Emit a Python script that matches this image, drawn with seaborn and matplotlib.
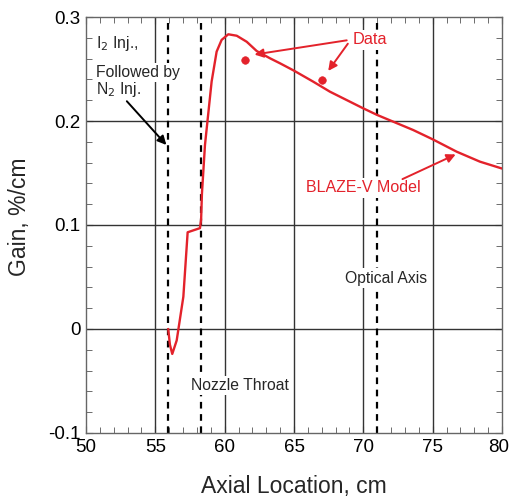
import matplotlib
matplotlib.use("Agg")
import matplotlib.pyplot as plt
import matplotlib.transforms as mtransforms
import seaborn as sns
import pandas as pd
from matplotlib.ticker import MultipleLocator

# Data
model_x = [55.93, 56.05, 56.22, 56.54, 57.02, 57.33, 58.22, 58.30, 58.36, 58.58, 59.06,
           59.42, 59.78, 60.26, 60.87, 61.59, 62.31, 63.27, 63.99, 65.0, 66.39,
           67.59, 69.99, 71.0, 72.04, 73.6, 75.0, 76.73, 78.41, 80.0]
model_y = [0.000, -0.015, -0.024, -0.011, 0.031, 0.093, 0.097, 0.105, 0.130, 0.177, 0.238,
           0.2667, 0.278, 0.2834, 0.282, 0.2762, 0.2673, 0.2603, 0.2555, 0.2484, 0.2378,
           0.2282, 0.2122, 0.2058, 0.200, 0.1913, 0.1824, 0.1705, 0.1609, 0.1543]
data_x = [61.46, 67.04]
data_y = [0.259, 0.2394]
marker_lines = [55.93, 58.3, 71.0]
x_ticks = [50, 55, 60, 65, 70, 75, 80]
y_ticks = [-0.1, 0.0, 0.1, 0.2, 0.3]
y_tick_labels = ["-0.1", "0", "0.1", "0.2", "0.3"]

sns.set_style("ticks")
plt.rcParams["font.family"] = ["Liberation Sans", "DejaVu Sans"]

RED = "#e3222b"

fig = plt.figure(figsize=(5.11, 4.99), dpi=100)
ax = fig.add_axes([0.1683, 0.1323, 0.8141, 0.8336])

ax.set_xlim(50, 80)
ax.set_ylim(-0.1, 0.3)

# grid
for gx in [55, 60, 65, 70, 75]:
    ax.axvline(gx, color="#333333", lw=1.0, zorder=1)
for gy in [0.0, 0.1, 0.2]:
    ax.axhline(gy, color="#333333", lw=1.0, zorder=1)
for mx in marker_lines:
    ax.axvline(mx, color="black", lw=1.6, ls=(0, (3, 2.5)), zorder=1.5)

df_model = pd.DataFrame({"x": model_x, "y": model_y})
df_data = pd.DataFrame({"x": data_x, "y": data_y})
sns.lineplot(data=df_model, x="x", y="y", ax=ax, color=RED, lw=1.7, sort=False,
             estimator=None, zorder=3)
sns.scatterplot(data=df_data, x="x", y="y", ax=ax, color=RED, s=30, edgecolor=RED,
                zorder=4)

ax.set_xticks(x_ticks)
ax.set_yticks(y_ticks)
ax.set_yticklabels(y_tick_labels)
ax.xaxis.set_minor_locator(MultipleLocator(1))
ax.yaxis.set_minor_locator(MultipleLocator(0.02))
ax.tick_params(which="both", direction="in", top=True, right=True, colors="#555555",
               labelcolor="black", labelsize=13.5)
ax.tick_params(which="major", length=5, pad=4)
ax.tick_params(which="minor", length=4)
for s in ax.spines.values():
    s.set_color("#666666")
    s.set_linewidth(1.0)

# nudge the last x tick label so it stays inside the figure
last = ax.get_xticklabels()[-1]
last.set_transform(last.get_transform() + mtransforms.ScaledTranslation(-3 / 100, 0, fig.dpi_scale_trans))

ax.set_xlabel("Axial Location, cm", fontsize=16.5)
ax.set_ylabel("Gain, %/cm", fontsize=16.5)
ax.xaxis.set_label_coords(0.5, -0.10)
ax.yaxis.set_label_coords(-0.133, 0.52)

bbox = dict(facecolor="white", edgecolor="none", pad=1.5)
fs = 11.3
ax.text(50.72, 0.275, "I$_2$ Inj.,", fontsize=fs, ha="left", va="center", bbox=bbox, zorder=5)
ax.text(50.72, 0.247, "Followed by", fontsize=fs, ha="left", va="center", bbox=bbox, zorder=5)
ax.text(50.72, 0.2305, "N$_2$ Inj.", fontsize=fs, ha="left", va="center", bbox=bbox, zorder=5)
ax.annotate("", xy=(55.93, 0.175), xytext=(52.81, 0.221),
            arrowprops=dict(arrowstyle="-|>", color="black", lw=1.4, mutation_scale=13), zorder=5)

ax.text(61.1, -0.054, "Nozzle Throat", fontsize=fs, ha="center", va="center", bbox=bbox, zorder=5)
ax.text(71.63, 0.049, "Optical Axis", fontsize=fs, ha="center", va="center", bbox=bbox, zorder=5)

ax.text(70.47, 0.278, "Data", fontsize=11.8, color=RED, ha="center", va="center", bbox=bbox, zorder=5)
ax.annotate("", xy=(61.95, 0.2635), xytext=(69.0, 0.278),
            arrowprops=dict(arrowstyle="-|>", color=RED, lw=1.4, mutation_scale=13), zorder=5)
ax.annotate("", xy=(67.35, 0.246), xytext=(69.0, 0.2765),
            arrowprops=dict(arrowstyle="-|>", color=RED, lw=1.4, mutation_scale=13), zorder=5)

ax.text(69.97, 0.1356, "BLAZE-V Model", fontsize=11.5, color=RED, ha="center", va="center",
        bbox=bbox, zorder=5)
ax.annotate("", xy=(76.84, 0.169), xytext=(72.64, 0.143),
            arrowprops=dict(arrowstyle="-|>", color=RED, lw=1.4, mutation_scale=13), zorder=5)

fig.savefig("out.png", dpi=100)
